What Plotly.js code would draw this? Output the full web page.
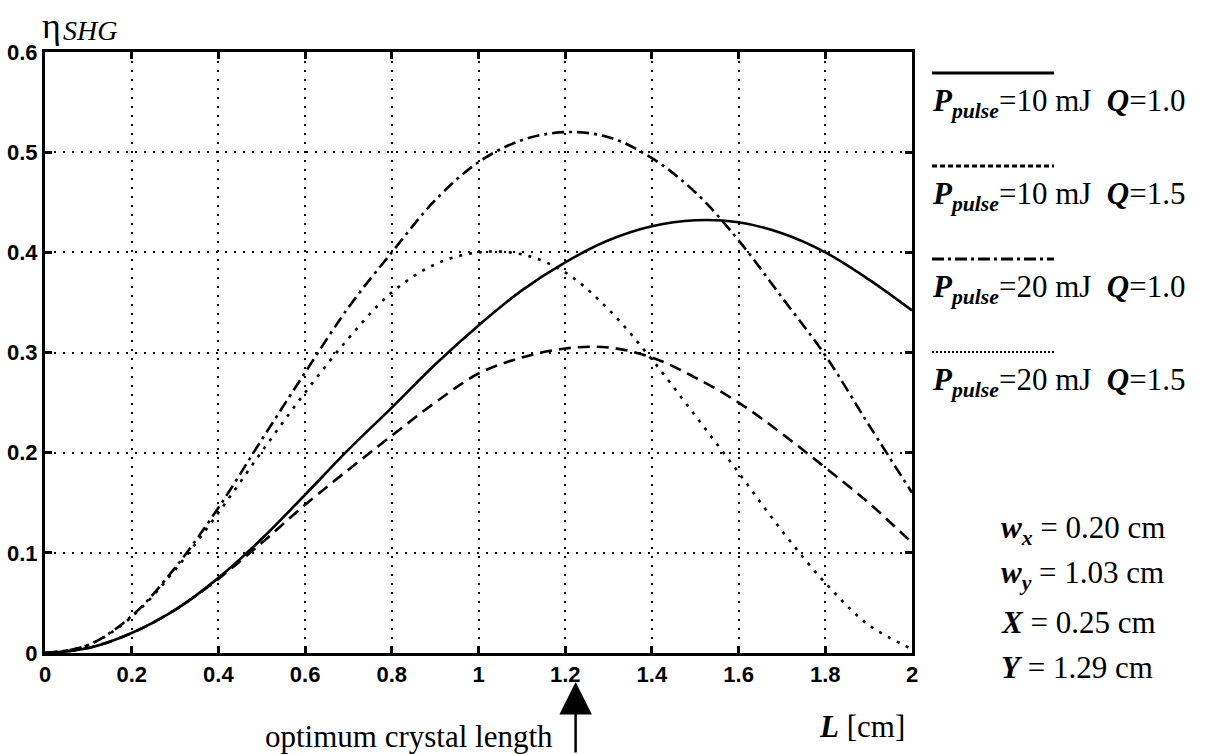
<!DOCTYPE html>
<html>
<head>
<meta charset="utf-8">
<script src="https://cdn.plot.ly/plotly-3.0.1.min.js"></script>
<style>html,body{margin:0;padding:0;background:#fff;}#chart{width:1222px;height:754px;}</style>
</head>
<body>
<div id="chart"></div>
<script>
// Crystal length L [cm]
const L = [0,0.1,0.2,0.3,0.4,0.5,0.6,0.7,0.8,0.9,1.0,1.1,1.2,1.3,1.4,1.5,1.6,1.7,1.8,1.9,2.0];
// eta_SHG for each case
const eta10Q10 = [0,0.005,0.02,0.043,0.075,0.114,0.158,0.203,0.245,0.288,0.327,0.362,0.39,0.412,0.426,0.432,0.43,0.419,0.40,0.373,0.342];
const eta10Q15 = [0,0.005,0.02,0.043,0.074,0.11,0.148,0.183,0.217,0.25,0.279,0.295,0.304,0.305,0.295,0.275,0.25,0.219,0.185,0.15,0.11];
const eta20Q10 = [0,0.008,0.037,0.085,0.145,0.213,0.28,0.345,0.40,0.452,0.49,0.512,0.52,0.515,0.494,0.46,0.412,0.355,0.297,0.228,0.16];
const eta20Q15 = [0,0.008,0.036,0.083,0.14,0.201,0.26,0.314,0.36,0.388,0.40,0.398,0.38,0.343,0.293,0.237,0.18,0.122,0.07,0.028,0.004];
const xTicks = [0,0.2,0.4,0.6,0.8,1,1.2,1.4,1.6,1.8,2];
const yTicks = [0,0.1,0.2,0.3,0.4,0.5,0.6];
const legendLabels = [
  "<b><i>P</i><sub><i>pulse</i></sub></b>=10 mJ\u00a0\u00a0<b><i>Q</i></b>=1.0",
  "<b><i>P</i><sub><i>pulse</i></sub></b>=10 mJ\u00a0\u00a0<b><i>Q</i></b>=1.5",
  "<b><i>P</i><sub><i>pulse</i></sub></b>=20 mJ\u00a0\u00a0<b><i>Q</i></b>=1.0",
  "<b><i>P</i><sub><i>pulse</i></sub></b>=20 mJ\u00a0\u00a0<b><i>Q</i></b>=1.5"
];
const paramLabels = [
  "<b><i>w</i><sub><i>x</i></sub></b> = 0.20 cm",
  "<b><i>w</i><sub><i>y</i></sub></b> = 1.03 cm",
  "<b><i>X</i></b> = 0.25 cm",
  "<b><i>Y</i></b> = 1.29 cm"
];
const optimumL = 1.224;

const serif = "Liberation Serif, Times New Roman, serif";
const dashes = ["solid", "12px,7px", "12px,5px,3px,5px", "3px,7px"];
const legendDashes = ["solid", "5px,3px", "12px,4px,3px,4px", "2px,2px"];
const series = [eta10Q10, eta10Q15, eta20Q10, eta20Q15];

const traces = series.map((y, i) => ({
  x: L, y: y, type: "scatter", mode: "lines",
  line: {color: "#000", width: 2.6, dash: dashes[i], shape: "spline", smoothing: 1},
  showlegend: false, hoverinfo: "skip"
}));

const px2paperX = px => (px - 45) / 867;
const px2paperY = py => (653 - py) / 601;

const shapes = [];
const annotations = [];
const legLineY = [73, 166, 259, 352];
legLineY.forEach((py, i) => {
  shapes.push({type: "line", xref: "paper", yref: "paper",
    x0: px2paperX(932), x1: px2paperX(1054), y0: px2paperY(py), y1: px2paperY(py),
    line: {color: "#000", width: i === 3 ? 2 : 3, dash: legendDashes[i]}});
  annotations.push({xref: "paper", yref: "paper", x: px2paperX(930), y: px2paperY(py + 30),
    xanchor: "left", yanchor: "middle", showarrow: false, text: legendLabels[i],
    font: {family: serif, size: 31, color: "#000"}});
});
const paramY = [530, 575, 622, 667];
paramY.forEach((py, i) => {
  annotations.push({xref: "paper", yref: "paper", x: px2paperX(999), y: px2paperY(py),
    xanchor: "left", yanchor: "middle", showarrow: false, text: paramLabels[i],
    font: {family: serif, size: 31, color: "#000"}});
});
annotations.push({xref: "paper", yref: "paper", x: px2paperX(40), y: px2paperY(26),
  xanchor: "left", yanchor: "middle", showarrow: false, text: "η",
  font: {family: serif, size: 36, color: "#000"}});
annotations.push({xref: "paper", yref: "paper", x: px2paperX(61), y: px2paperY(30),
  xanchor: "left", yanchor: "middle", showarrow: false, text: "<i>SHG</i>",
  font: {family: serif, size: 28, color: "#000"}});
annotations.push({xref: "paper", yref: "paper", x: px2paperX(907), y: px2paperY(727),
  xanchor: "right", yanchor: "middle", showarrow: false, text: "<b><i>L</i></b> [cm]",
  font: {family: serif, size: 31, color: "#000"}});
annotations.push({xref: "paper", yref: "paper", x: px2paperX(555), y: px2paperY(737),
  xanchor: "right", yanchor: "middle", showarrow: false, text: "optimum crystal length",
  font: {family: serif, size: 31, color: "#000"}});
annotations.push({xref: "x", yref: "paper", x: optimumL, y: px2paperY(682),
  text: "", showarrow: true, arrowhead: 2, arrowsize: 2.6, arrowwidth: 2.5, arrowcolor: "#000",
  axref: "pixel", ayref: "pixel", ax: 0, ay: 74});

const tickFont = {family: "Liberation Sans, Arial, sans-serif", size: 22, color: "#000", weight: "bold"};
const layout = {
  width: 1222, height: 754,
  margin: {l: 45, r: 310, t: 52, b: 101, pad: 0},
  paper_bgcolor: "#fff", plot_bgcolor: "#fff",
  showlegend: false,
  xaxis: {range: [0, 2], tickvals: xTicks, ticktext: xTicks.map(String),
    showgrid: true, gridcolor: "#000", gridwidth: 2, griddash: "2px,7px",
    zeroline: false, showline: true, linecolor: "#000", linewidth: 3, mirror: "ticks",
    ticks: "inside", ticklen: 7, tickwidth: 3, tickcolor: "#000", tickfont: tickFont},
  yaxis: {range: [0, 0.6], tickvals: yTicks, ticktext: yTicks.map(String),
    showgrid: true, gridcolor: "#000", gridwidth: 2, griddash: "2px,7px",
    zeroline: false, showline: true, linecolor: "#000", linewidth: 3, mirror: "ticks",
    ticks: "inside", ticklen: 7, tickwidth: 3, tickcolor: "#000", tickfont: tickFont},
  shapes: shapes,
  annotations: annotations
};

Plotly.newPlot("chart", traces, layout, {staticPlot: true, displayModeBar: false});
</script>
</body>
</html>
